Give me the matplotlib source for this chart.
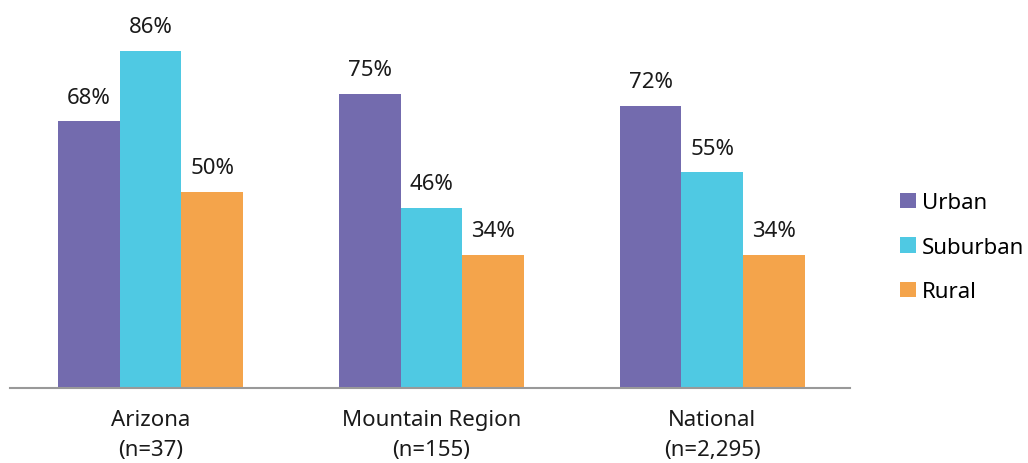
import numpy as np
import matplotlib
matplotlib.use("Agg")
import matplotlib.pyplot as plt

plt.rcParams['font.family'] = ['Noto Sans', 'DejaVu Sans']

# data
categories = ["Arizona\n(n=37)", "Mountain Region\n(n=155)", "National\n(n=2,295)"]
series_names = ["Urban", "Suburban", "Rural"]
urban = [68, 75, 72]
suburban = [86, 46, 55]
rural = [50, 34, 34]

colors = ["#736BAE", "#4FC9E3", "#F4A44B"]

fig = plt.figure(figsize=(10.28, 4.64), dpi=100)
ax = fig.add_axes([10 / 1028, 75 / 464, 840 / 1028, 389 / 464])

x = np.arange(len(categories))
width = 0.22
for i, (name, vals) in enumerate(zip(series_names, [urban, suburban, rural])):
    pos = x + (i - 1) * width
    bars = ax.bar(pos, vals, width, color=colors[i], label=name)
    for b, v in zip(bars, vals):
        ax.text(b.get_x() + b.get_width() / 2, v + 3.5, f"{v}%",
                ha='center', va='bottom', fontsize=16, color='#1a1a1a')

ax.set_xlim(-0.5, 2.49)
ax.set_ylim(0, 99.2)
ax.set_yticks([])
ax.set_xticks(x)
ax.set_xticklabels(categories, fontsize=16, color='#1a1a1a', linespacing=1.55)
ax.tick_params(axis='x', length=0, pad=15)
for s in ['top', 'right', 'left']:
    ax.spines[s].set_visible(False)
ax.spines['bottom'].set_color('#999999')
ax.spines['bottom'].set_linewidth(1.5)

leg = fig.legend(loc='center left', bbox_to_anchor=(880 / 1028, 0.465),
                 frameon=False, fontsize=16, handlelength=0.7, handleheight=0.7,
                 handletextpad=0.3, labelspacing=1.05)

fig.savefig("out.png", dpi=100)
